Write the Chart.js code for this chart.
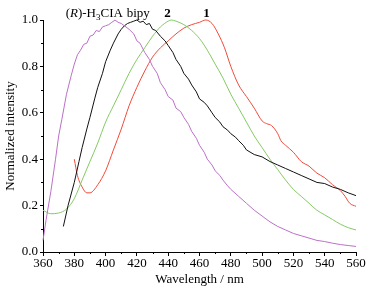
<!DOCTYPE html>
<html>
<head>
<meta charset="utf-8">
<script src="https://cdn.jsdelivr.net/npm/chart.js@4.4.1/dist/chart.umd.min.js"></script>
<style>
html,body{margin:0;padding:0;background:#fff;}
#wrap{width:383px;height:290px;position:relative;}
</style>
</head>
<body>
<div id="wrap"><canvas id="c" width="383" height="290"></canvas></div>
<script>
// ---- data (wavelength nm, normalized intensity) ----
const h3ciaX = [360,362,365,368,370,372,375,378,380,382,384,386,388,390,392,394,396,398,400,402,404,406,408,410,412,415,418,420,422,425,428,430,433,435,438,440,443,445,448,450,453,455,458,460,463,465,468,470,473,475,478,480,485,490,495,500,505,510,515,520,525,530,535,540,545,550,555,560];
const h3ciaY = [0.05,0.14,0.26,0.40,0.50,0.57,0.68,0.76,0.81,0.85,0.87,0.895,0.90,0.93,0.935,0.955,0.95,0.97,0.975,0.98,0.99,1.00,0.99,0.985,0.975,0.96,0.94,0.91,0.90,0.86,0.83,0.80,0.77,0.73,0.70,0.67,0.655,0.62,0.605,0.58,0.55,0.52,0.49,0.46,0.43,0.40,0.375,0.35,0.33,0.31,0.285,0.27,0.24,0.21,0.18,0.155,0.13,0.11,0.095,0.08,0.07,0.06,0.05,0.045,0.038,0.032,0.028,0.024];

const bipyX = [373,376,378,380,383,385,388,390,393,395,398,400,403,405,408,410,412,414,416,418,420,422,424,426,428,430,432,435,438,440,443,445,448,450,453,455,458,460,463,465,468,470,473,475,478,480,483,485,488,490,495,500,505,510,515,520,525,530,535,540,545,550,555,560];
const bipyY = [0.11,0.20,0.25,0.30,0.39,0.45,0.53,0.58,0.66,0.71,0.77,0.82,0.87,0.90,0.94,0.96,0.975,0.985,0.99,0.995,1.00,0.99,0.995,0.98,0.985,0.96,0.955,0.93,0.91,0.89,0.86,0.83,0.80,0.77,0.745,0.72,0.69,0.66,0.645,0.63,0.60,0.58,0.56,0.54,0.525,0.51,0.495,0.48,0.46,0.44,0.42,0.41,0.39,0.375,0.36,0.345,0.33,0.315,0.30,0.295,0.28,0.27,0.255,0.243];

const c2X = [360,365,370,375,380,385,390,395,400,405,410,415,420,425,430,435,440,442,445,450,455,460,465,470,475,480,485,490,495,500,505,510,515,520,525,530,535,540,545,550,555,560];
const c2Y = [0.18,0.165,0.168,0.185,0.23,0.31,0.39,0.47,0.56,0.63,0.70,0.77,0.83,0.88,0.93,0.97,0.995,1.00,0.995,0.98,0.955,0.92,0.87,0.81,0.75,0.68,0.62,0.56,0.50,0.45,0.40,0.355,0.31,0.27,0.24,0.21,0.18,0.16,0.14,0.12,0.105,0.095];

const c1X = [380,382,385,388,390,395,400,405,410,415,420,425,430,435,440,445,450,455,460,464,468,472,476,480,485,490,495,500,503,506,510,512,515,520,525,530,535,540,545,550,553,556,560];
const c1Y = [0.40,0.33,0.28,0.255,0.255,0.29,0.35,0.44,0.53,0.63,0.71,0.78,0.84,0.88,0.91,0.94,0.965,0.98,0.99,1.00,0.985,0.94,0.88,0.80,0.72,0.67,0.62,0.565,0.553,0.545,0.51,0.48,0.46,0.43,0.39,0.37,0.34,0.32,0.29,0.265,0.24,0.21,0.197];

const xTicks = [360,380,400,420,440,460,480,500,520,540,560];
const yTicks = [0.0,0.2,0.4,0.6,0.8,1.0];

const toXY = (xs, ys) => xs.map((x, i) => ({x: x, y: ys[i]}));

const serif = '"Liberation Serif", "Times New Roman", serif';

const minorTicks = {
  id: 'minorTicks',
  afterDraw(chart) {
    const ctx = chart.ctx, xs = chart.scales.x, ys = chart.scales.y;
    const ca = chart.chartArea;
    ctx.save();
    ctx.strokeStyle = '#000';
    ctx.lineWidth = 1;
    ctx.beginPath();
    for (let v = 370; v < 560; v += 20) {
      const px = Math.round(xs.getPixelForValue(v)) + 0.5;
      ctx.moveTo(px, ca.bottom);
      ctx.lineTo(px, ca.bottom + 2);
    }
    for (let v = 0.1; v < 1.0; v += 0.2) {
      const py = Math.round(ys.getPixelForValue(v)) + 0.5;
      ctx.moveTo(ca.left, py);
      ctx.lineTo(ca.left - 2, py);
    }
    ctx.stroke();
    ctx.restore();
  }
};

const labels = {
  id: 'labels',
  afterDraw(chart) {
    const ctx = chart.ctx, xs = chart.scales.x;
    const top = chart.chartArea.top;
    ctx.save();
    ctx.fillStyle = '#000';
    ctx.textBaseline = 'alphabetic';
    const base = top - 3;
    let x = xs.getPixelForValue(374.5);
    const parts = [
      ['(', '13px ' + serif, 0],
      ['R', 'italic 13px ' + serif, 0],
      [')-H', '13px ' + serif, 0],
      ['3', '9px ' + serif, 3],
      ['CIA', '13px ' + serif, 0]
    ];
    for (const p of parts) {
      ctx.font = p[1];
      ctx.fillText(p[0], x, base + p[2]);
      x += ctx.measureText(p[0]).width;
    }
    ctx.font = '13px ' + serif;
    ctx.fillText('bipy', xs.getPixelForValue(413.5), base);
    ctx.font = 'bold 13px ' + serif;
    ctx.textAlign = 'center';
    ctx.fillText('2', xs.getPixelForValue(439.5), base);
    ctx.fillText('1', xs.getPixelForValue(464.5), base);
    ctx.restore();
  }
};

new Chart(document.getElementById('c'), {
  type: 'line',
  data: {
    datasets: [
      {label: '(R)-H3CIA', data: toXY(h3ciaX, h3ciaY), borderColor: '#bb70c8'},
      {label: 'bipy', data: toXY(bipyX, bipyY), borderColor: '#111111'},
      {label: '2', data: toXY(c2X, c2Y), borderColor: '#84ca64', cubicInterpolationMode: 'monotone'},
      {label: '1', data: toXY(c1X, c1Y), borderColor: '#f04a3a', cubicInterpolationMode: 'monotone'}
    ]
  },
  options: {
    responsive: false,
    animation: false,
    devicePixelRatio: 1,
    clip: false,
    elements: {
      line: {borderWidth: 1, tension: 0, fill: false},
      point: {radius: 0}
    },
    layout: {padding: {left: 0, right: 27, top: 20, bottom: 0}},
    plugins: {legend: {display: false}, tooltip: {enabled: false}},
    scales: {
      x: {
        type: 'linear', min: 360, max: 560,
        afterBuildTicks: (s) => { s.ticks = xTicks.map(v => ({value: v})); },
        afterFit: (s) => { s.height = 38; },
        ticks: {color: '#000', font: {family: serif, size: 13}, padding: 0, maxRotation: 0,
                callback: (v) => String(v)},
        grid: {drawOnChartArea: false, tickLength: 4, color: '#000', tickColor: '#000'},
        border: {display: true, color: '#000', width: 1},
        title: {display: true, text: 'Wavelength / nm', color: '#000', font: {family: serif, size: 13}, padding: {top: 0, bottom: 3}}
      },
      y: {
        type: 'linear', min: 0, max: 1.0,
        afterBuildTicks: (s) => { s.ticks = yTicks.map(v => ({value: v})); },
        afterFit: (s) => { s.width = 43; },
        ticks: {color: '#000', font: {family: serif, size: 13}, padding: 2,
                callback: (v) => Number(v).toFixed(1)},
        grid: {drawOnChartArea: false, tickLength: 3, color: '#000', tickColor: '#000'},
        border: {display: true, color: '#000', width: 1},
        title: {display: true, text: 'Normalized intensity', color: '#000', font: {family: serif, size: 13}, padding: {top: 3, bottom: 0}}
      }
    }
  },
  plugins: [minorTicks, labels]
});
</script>
</body>
</html>
